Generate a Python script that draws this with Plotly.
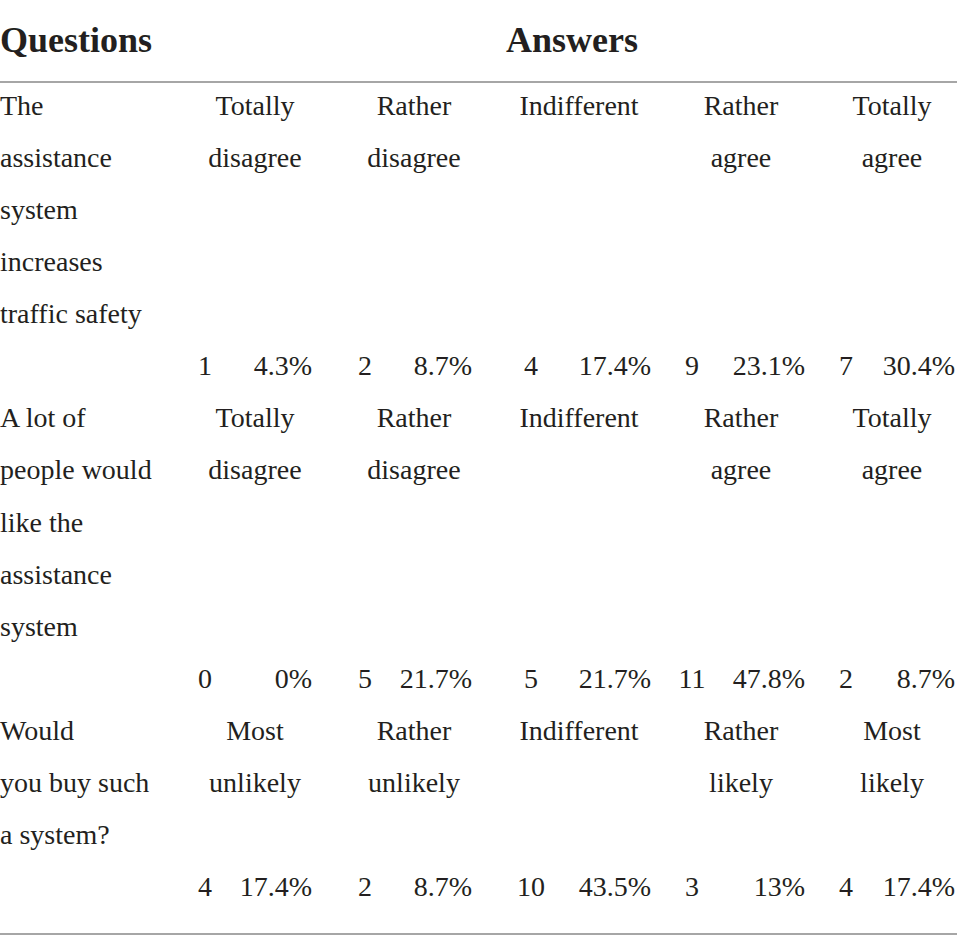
import plotly.graph_objects as go

# ---- data ----
header_left = "Questions"
header_right = "Answers"
question_lines = [
    ["The", "assistance", "system", "increases", "traffic safety"],
    ["A lot of", "people would", "like the", "assistance", "system"],
    ["Would", "you buy such", "a system?"],
]
answer_labels = [
    [["Totally", "disagree"], ["Rather", "disagree"], ["Indifferent"], ["Rather", "agree"], ["Totally", "agree"]],
    [["Totally", "disagree"], ["Rather", "disagree"], ["Indifferent"], ["Rather", "agree"], ["Totally", "agree"]],
    [["Most", "unlikely"], ["Rather", "unlikely"], ["Indifferent"], ["Rather", "likely"], ["Most", "likely"]],
]
counts = [
    [1, 2, 4, 9, 7],
    [0, 5, 5, 11, 2],
    [4, 2, 10, 3, 4],
]
percents = [
    ["4.3%", "8.7%", "17.4%", "23.1%", "30.4%"],
    ["0%", "21.7%", "21.7%", "47.8%", "8.7%"],
    ["17.4%", "8.7%", "43.5%", "13%", "17.4%"],
]

# ---- layout constants ----
W, H = 957, 949
FONT = "Liberation Serif"
COLOR = "#231f20"
FS = 28
HFS = 36
label_cx = [255, 414, 579, 741, 892]
count_cx = [205, 365, 531, 692, 846]
pct_rx = [312, 472, 651, 805, 955]
first_line_y = 108
line_gap = 52.07
header_y = 43
rule_top = 82
rule_bottom = 934

left_x, left_y, left_t = [], [], []
cen_x, cen_y, cen_t = [], [], []
right_x, right_y, right_t = [], [], []

line = 0
for r, qlines in enumerate(question_lines):
    n_text = max(len(qlines), max(len(a) for a in answer_labels[r]))
    for i, t in enumerate(qlines):
        left_x.append(0)
        left_y.append(first_line_y + line_gap * (line + i))
        left_t.append(t)
    for c, lab in enumerate(answer_labels[r]):
        for i, t in enumerate(lab):
            cen_x.append(label_cx[c])
            cen_y.append(first_line_y + line_gap * (line + i))
            cen_t.append(t)
    ny = first_line_y + line_gap * (line + n_text)
    for c in range(5):
        cen_x.append(count_cx[c])
        cen_y.append(ny)
        cen_t.append(str(counts[r][c]))
        right_x.append(pct_rx[c])
        right_y.append(ny)
        right_t.append(percents[r][c])
    line += n_text + 1

fig = go.Figure()
font = dict(family=FONT, size=FS, color=COLOR)
fig.add_trace(go.Scatter(x=left_x, y=left_y, text=left_t, mode="text",
                         textposition="middle right", textfont=font, hoverinfo="skip"))
fig.add_trace(go.Scatter(x=cen_x, y=cen_y, text=cen_t, mode="text",
                         textposition="middle center", textfont=font, hoverinfo="skip"))
fig.add_trace(go.Scatter(x=right_x, y=right_y, text=right_t, mode="text",
                         textposition="middle left", textfont=font, hoverinfo="skip"))
hfont = dict(family=FONT, size=HFS, color=COLOR)
fig.add_trace(go.Scatter(x=[0], y=[header_y], text=["<b>" + header_left + "</b>"], mode="text",
                         textposition="middle right", textfont=hfont, hoverinfo="skip"))
fig.add_trace(go.Scatter(x=[572], y=[header_y], text=["<b>" + header_right + "</b>"], mode="text",
                         textposition="middle center", textfont=hfont, hoverinfo="skip"))

for yy in (rule_top, rule_bottom):
    fig.add_shape(type="line", xref="x", yref="y", x0=0, x1=W, y0=yy, y1=yy,
                  line=dict(color="#a6a6a6", width=2))

fig.update_layout(
    width=W, height=H, margin=dict(l=0, r=0, t=0, b=0),
    paper_bgcolor="white", plot_bgcolor="white", showlegend=False,
    xaxis=dict(range=[0, W], visible=False, fixedrange=True),
    yaxis=dict(range=[H, 0], visible=False, fixedrange=True),
)
fig.write_html("out.html", config={"displayModeBar": False},
               post_script="document.body.style.margin='0px';document.body.style.overflow='hidden';")
